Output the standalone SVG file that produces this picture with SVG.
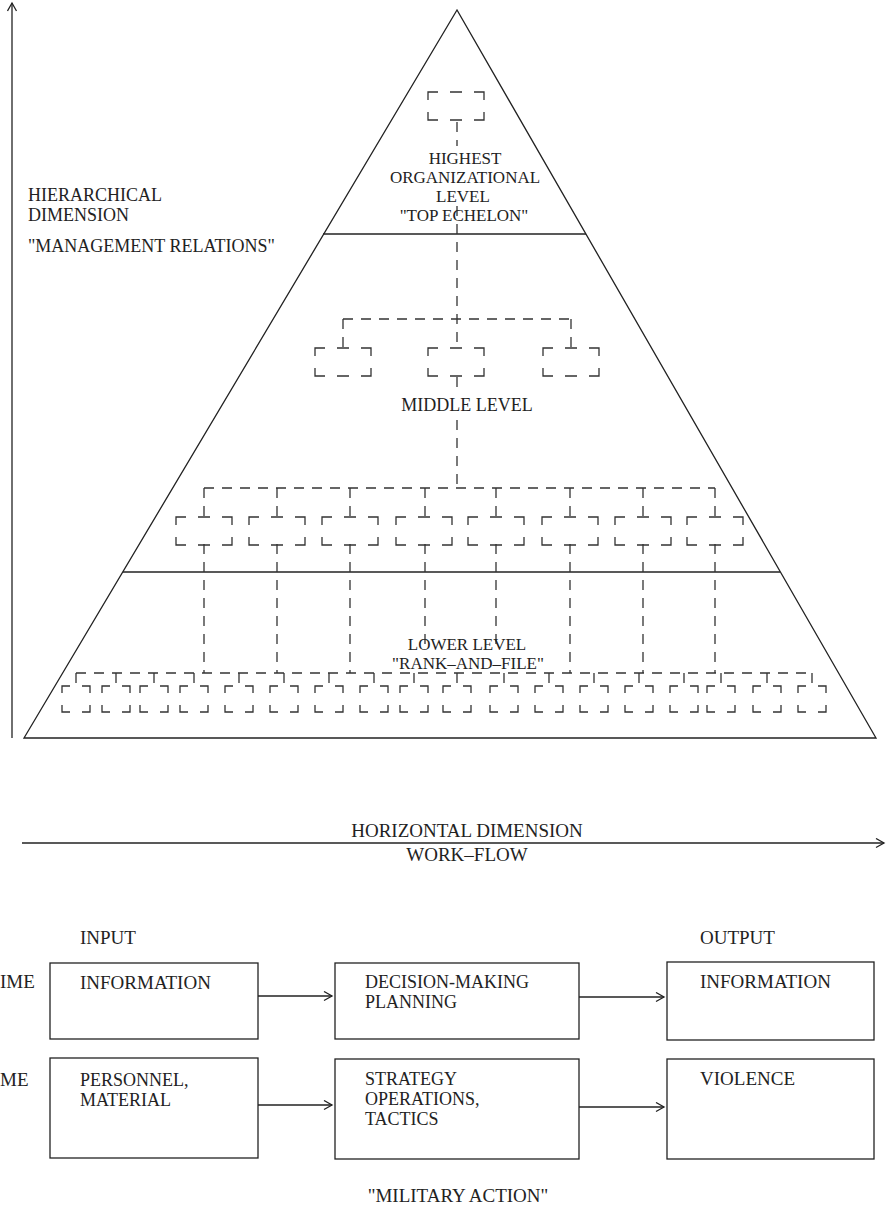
<svg xmlns="http://www.w3.org/2000/svg" width="894" height="1212" viewBox="0 0 894 1212">
<style>
.ln{stroke:#222;stroke-width:1.3;fill:none}
.ds{stroke:#333;stroke-width:1.3;fill:none;stroke-dasharray:10 8}
.bb{stroke:#333;stroke-width:1.3;fill:none;stroke-dasharray:10 12 12 12 18 12 18 12 12 12 18 12 8}
.sb{stroke:#333;stroke-width:1.3;fill:none;stroke-dasharray:8 12 15 12 15 12 15 12 7}
.bx{stroke:#222;stroke-width:1.3;fill:#fff}
text{font-family:"Liberation Serif","Times New Roman",serif;fill:#222;font-size:19px}
.m{font-size:18px}
.t{font-size:17px;text-anchor:middle}
.p{font-size:18px;text-anchor:middle}
.c{text-anchor:middle}
</style>
<defs>
<marker id="ah" markerWidth="12" markerHeight="12" refX="9" refY="5" orient="auto" markerUnits="userSpaceOnUse"><path d="M1,0.5 L9,5 L1,9.5" fill="none" stroke="#222" stroke-width="1.3"/></marker>
</defs>
<rect width="894" height="1212" fill="#fff"/>

<g id="axes">
<line class="ln" x1="12" y1="738" x2="12" y2="3" marker-end="url(#ah)"/>
<line class="ln" x1="22" y1="843" x2="884" y2="843" marker-end="url(#ah)"/>
</g>

<g id="pyramid">
<polygon class="ln" points="457,10 24,738 876,738"/>
<line class="ln" x1="323" y1="234" x2="586" y2="234"/>
<line class="ln" x1="123" y1="572" x2="780" y2="572"/>
</g>

<g id="labels-left">
<text class="m" x="28" y="201">HIERARCHICAL</text>
<text class="m" x="28" y="221">DIMENSION</text>
<text class="m" x="28" y="252">"MANAGEMENT RELATIONS"</text>
</g>

<g id="connectors">
<line class="ds" x1="457" y1="122" x2="457" y2="146"/>
<line class="ds" x1="457" y1="206" x2="457" y2="348"/>
<line class="ds" x1="343" y1="319" x2="571" y2="319"/>
<line class="ds" x1="343" y1="319" x2="343" y2="348"/>
<line class="ds" x1="571" y1="319" x2="571" y2="348"/>
<line class="ds" x1="457" y1="377" x2="457" y2="394"/>
<line class="ds" x1="457" y1="420" x2="457" y2="488"/>
<line class="ds" x1="204" y1="488" x2="715" y2="488"/>
<path class="ds" d="M204,488V517M277,488V517M350,488V517M425,488V517M496,488V517M570,488V517M643,488V517M715,488V517"/>
<path class="ds" d="M204,544V673M277,544V673M350,544V673M425,544V645M496,544V650M570,544V673M643,544V673M715,544V673"/>
<line class="ds" x1="76" y1="673" x2="812" y2="673"/>
<path class="ds" d="M76,673V686M116,673V686M154,673V686M194,673V686M239,673V686M284,673V686M329,673V686M374,673V686M414,673V686M457,673V686M504,673V686M549,673V686M594,673V686M639,673V686M684,673V686M721,673V686M767,673V686M812,673V686"/>
<line class="ln" x1="258" y1="996" x2="332" y2="996" marker-end="url(#ah)"/>
<line class="ln" x1="579" y1="997" x2="664" y2="997" marker-end="url(#ah)"/>
<line class="ln" x1="258" y1="1105" x2="332" y2="1105" marker-end="url(#ah)"/>
<line class="ln" x1="579" y1="1107" x2="664" y2="1107" marker-end="url(#ah)"/>
</g>

<g id="top-level">
<rect class="bb" x="428" y="92" width="56" height="28"/>
<text class="t" x="465" y="164">HIGHEST</text>
<text class="t" x="465" y="183">ORGANIZATIONAL</text>
<text class="t" x="463" y="202">LEVEL</text>
<text class="t" x="464" y="221">"TOP ECHELON"</text>
</g>

<g id="middle-level">
<rect class="bb" x="315" y="348" width="56" height="28"/>
<rect class="bb" x="428" y="348" width="56" height="28"/>
<rect class="bb" x="543" y="348" width="56" height="28"/>
<text class="p" x="467" y="411">MIDDLE LEVEL</text>
</g>

<g id="middle-lower-boxes">
<rect class="bb" x="176" y="517" width="56" height="28"/>
<rect class="bb" x="249" y="517" width="56" height="28"/>
<rect class="bb" x="322" y="517" width="56" height="28"/>
<rect class="bb" x="396" y="517" width="56" height="28"/>
<rect class="bb" x="468" y="517" width="56" height="28"/>
<rect class="bb" x="542" y="517" width="56" height="28"/>
<rect class="bb" x="615" y="517" width="56" height="28"/>
<rect class="bb" x="687" y="517" width="56" height="28"/>
</g>

<g id="lower-level">
<rect class="sb" x="62" y="686" width="28" height="26"/>
<rect class="sb" x="102" y="686" width="28" height="26"/>
<rect class="sb" x="140" y="686" width="28" height="26"/>
<rect class="sb" x="180" y="686" width="28" height="26"/>
<rect class="sb" x="225" y="686" width="28" height="26"/>
<rect class="sb" x="270" y="686" width="28" height="26"/>
<rect class="sb" x="315" y="686" width="28" height="26"/>
<rect class="sb" x="360" y="686" width="28" height="26"/>
<rect class="sb" x="400" y="686" width="28" height="26"/>
<rect class="sb" x="443" y="686" width="28" height="26"/>
<rect class="sb" x="490" y="686" width="28" height="26"/>
<rect class="sb" x="535" y="686" width="28" height="26"/>
<rect class="sb" x="580" y="686" width="28" height="26"/>
<rect class="sb" x="625" y="686" width="28" height="26"/>
<rect class="sb" x="670" y="686" width="28" height="26"/>
<rect class="sb" x="707" y="686" width="28" height="26"/>
<rect class="sb" x="753" y="686" width="28" height="26"/>
<rect class="sb" x="798" y="686" width="28" height="26"/>
<text class="t" x="467" y="650">LOWER LEVEL</text>
<text class="t" x="468" y="669">"RANK–AND–FILE"</text>
</g>

<g id="horizontal-label">
<text class="c" x="467" y="837">HORIZONTAL DIMENSION</text>
<text class="c" x="467" y="861">WORK–FLOW</text>
</g>

<g id="row-labels">
<text x="80" y="944">INPUT</text>
<text x="700" y="944">OUTPUT</text>
<text x="0" y="988">IME</text>
<text x="0" y="1086">ME</text>
<text class="c" x="458" y="1202">"MILITARY ACTION"</text>
</g>

<g id="box-input-1">
<rect class="bx" x="50" y="963" width="208" height="76"/>
<text x="80" y="989">INFORMATION</text>
</g>
<g id="box-process-1">
<rect class="bx" x="335" y="963" width="244" height="76"/>
<text class="m" x="365" y="988">DECISION-MAKING</text>
<text class="m" x="365" y="1008">PLANNING</text>
</g>
<g id="box-output-1">
<rect class="bx" x="667" y="962" width="207" height="78"/>
<text x="700" y="988">INFORMATION</text>
</g>
<g id="box-input-2">
<rect class="bx" x="50" y="1058" width="208" height="100"/>
<text class="m" x="80" y="1086">PERSONNEL,</text>
<text class="m" x="80" y="1106">MATERIAL</text>
</g>
<g id="box-process-2">
<rect class="bx" x="335" y="1059" width="244" height="100"/>
<text class="m" x="365" y="1085">STRATEGY</text>
<text class="m" x="365" y="1105">OPERATIONS,</text>
<text class="m" x="365" y="1125">TACTICS</text>
</g>
<g id="box-output-2">
<rect class="bx" x="667" y="1059" width="207" height="100"/>
<text x="700" y="1085">VIOLENCE</text>
</g>
</svg>
